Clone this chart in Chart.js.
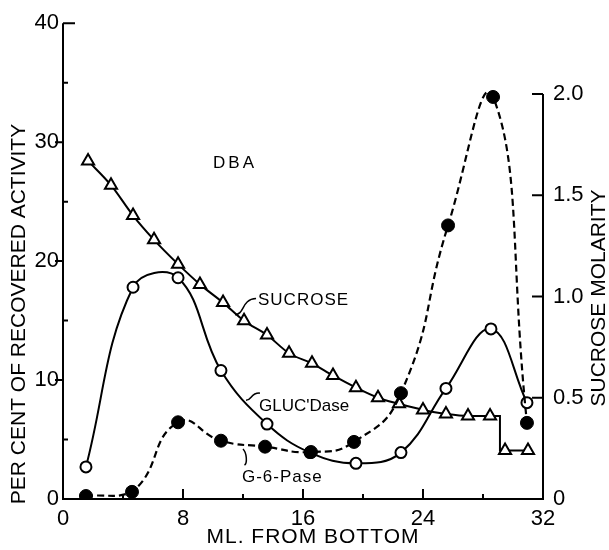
<!DOCTYPE html>
<html>
<head>
<meta charset="utf-8">
<script src="https://cdn.jsdelivr.net/npm/chart.js@4.4.1/dist/chart.umd.min.js"></script>
<style>
  html, body { margin: 0; padding: 0; background: #fff; }
  #wrap { width: 609px; height: 550px; position: relative; }
</style>
</head>
<body>
<div id="wrap"><canvas id="myChart"></canvas></div>
<script>
// ml from bottom of the tube (x) for each series
const sucroseMl = [1.67, 3.2, 4.67, 6.07, 7.67, 9.13, 10.67, 12.07, 13.6, 15.07, 16.6, 18.0, 19.53, 21.0, 22.4, 24.0, 25.53, 27.0, 28.47, 29.47, 31.0];
const sucroseMolarity = [1.67, 1.55, 1.40, 1.28, 1.16, 1.06, 0.97, 0.88, 0.81, 0.72, 0.67, 0.61, 0.55, 0.50, 0.47, 0.44, 0.42, 0.41, 0.41, 0.24, 0.24];

// the drop in the sucrose line near the top of the tube
const stepMl = [28.47, 29.13, 29.13, 29.47, 31.0];
const stepMolarity = [0.41, 0.41, 0.24, 0.24, 0.24];

const glucMl = [1.53, 4.67, 7.67, 10.53, 13.6, 16.47, 19.53, 22.53, 25.53, 28.53, 30.93];
const glucPct = [2.7, 17.8, 18.6, 10.8, 6.3, 3.9, 3.0, 3.9, 9.3, 14.3, 8.1];

const g6pMl = [1.53, 4.6, 7.67, 10.53, 13.47, 16.53, 19.4, 22.53, 25.67, 28.67, 30.93];
const g6pPct = [0.25, 0.6, 6.45, 4.9, 4.4, 3.95, 4.8, 8.9, 23.0, 33.8, 6.4];

const xTicks = [0, 8, 16, 24, 32];
const pctTicks = [0, 10, 20, 30, 40];
const molarTicks = [0, 0.5, 1.0, 1.5, 2.0];

const pts = (xs, ys) => xs.map((v, i) => ({ x: v, y: ys[i] }));

Chart.defaults.font.family = '"Liberation Sans", Arial, sans-serif';
Chart.defaults.color = '#000';

const FONT = '"Liberation Sans", Arial, sans-serif';

// axis lines, inside ticks, rotated titles and the labels on the curves
const ink = {
    id: 'ink',
    afterDraw(chart) {
        const { ctx } = chart;
        const x = chart.scales.x, y = chart.scales.y, y1 = chart.scales.y1;
        const P = (ml, v) => [x.getPixelForValue(ml), y.getPixelForValue(v)];
        const x0 = x.getPixelForValue(0), x32 = x.getPixelForValue(32);
        const yb = y.getPixelForValue(0);

        ctx.save();
        ctx.strokeStyle = '#000';
        ctx.fillStyle = '#000';
        ctx.lineWidth = 2;

        ctx.beginPath();
        ctx.moveTo(x0, y.getPixelForValue(40));
        ctx.lineTo(x0, yb);
        ctx.lineTo(x32, yb);
        ctx.lineTo(x32, y1.getPixelForValue(2.0));
        ctx.stroke();

        ctx.beginPath();
        // left axis
        [10, 20, 30].forEach(v => { const py = y.getPixelForValue(v); ctx.moveTo(x0 - 8, py); ctx.lineTo(x0, py); });
        ctx.moveTo(x0, y.getPixelForValue(40)); ctx.lineTo(x0 + 12, y.getPixelForValue(40));
        [5, 15, 25, 35].forEach(v => { const py = y.getPixelForValue(v); ctx.moveTo(x0, py); ctx.lineTo(x0 + 5, py); });
        // bottom axis
        [8, 16, 24].forEach(v => { const px = x.getPixelForValue(v); ctx.moveTo(px, yb); ctx.lineTo(px, yb - 10); });
        [4, 12, 20, 28].forEach(v => { const px = x.getPixelForValue(v); ctx.moveTo(px, yb); ctx.lineTo(px, yb - 5); });
        // right axis
        [0.5, 1.0, 1.5, 2.0].forEach(v => { const py = y1.getPixelForValue(v); ctx.moveTo(x32, py); ctx.lineTo(x32 - 11, py); });
        ctx.stroke();

        // axis titles
        ctx.font = '21px ' + FONT;
        ctx.textAlign = 'center';
        ctx.textBaseline = 'middle';
        ctx.save();
        ctx.translate(19, 314);
        ctx.rotate(-Math.PI / 2);
        ctx.fillText('PER CENT OF RECOVERED ACTIVITY', 0, 0);
        ctx.restore();
        ctx.save();
        ctx.translate(599, 298);
        ctx.rotate(-Math.PI / 2);
        ctx.fillText('SUCROSE MOLARITY', 0, 0);
        ctx.restore();
        ctx.letterSpacing = '1px';
        ctx.fillText('ML. FROM BOTTOM', 313, 537);

        // curve labels
        ctx.font = '17px ' + FONT;
        ctx.letterSpacing = '3px';
        let p = P(11.47, 28.25);
        ctx.fillText('DBA', p[0], p[1]);
        ctx.textAlign = 'left';
        ctx.letterSpacing = '1px';
        p = P(13.0, 16.7); ctx.fillText('SUCROSE', p[0], p[1]);
        p = P(11.93, 1.85); ctx.fillText('G-6-Pase', p[0], p[1]);
        ctx.letterSpacing = '0px';
        p = P(13.07, 7.8); ctx.fillText("GLUC'Dase", p[0], p[1]);

        // leader squiggles
        ctx.lineWidth = 1.5;
        const leader = (a, b, c, d) => {
            const s = P(...a), c1 = P(...b), c2 = P(...c), e = P(...d);
            ctx.beginPath();
            ctx.moveTo(s[0], s[1]);
            ctx.bezierCurveTo(c1[0], c1[1], c2[0], c2[1], e[0], e[1]);
            ctx.stroke();
        };
        leader([11.47, 15.5], [12.1, 15.5], [11.9, 16.8], [12.87, 16.85]);
        leader([12.2, 8.3], [12.6, 8.3], [12.5, 8.95], [13.13, 8.9]);
        leader([12.0, 4.2], [12.25, 3.9], [12.3, 3.0], [12.1, 2.85]);
        ctx.restore();
    }
};

const config = {
    type: 'line',
    data: {
        datasets: [
            {
                label: 'G-6-Pase',
                data: pts(g6pMl, g6pPct),
                yAxisID: 'y',
                borderColor: '#000',
                borderWidth: 2.2,
                borderDash: [7, 4],
                tension: 0.5,
                pointRadius: 6.5,
                pointBackgroundColor: '#000',
                pointBorderColor: '#000',
                pointBorderWidth: 1
            },
            {
                label: "GLUC'Dase",
                data: pts(glucMl, glucPct),
                yAxisID: 'y',
                borderColor: '#000',
                borderWidth: 2,
                tension: 0.4,
                pointRadius: 5.5,
                pointBackgroundColor: '#fff',
                pointBorderColor: '#000',
                pointBorderWidth: 2
            },
            {
                label: 'Sucrose',
                data: pts(sucroseMl, sucroseMolarity),
                yAxisID: 'y1',
                borderColor: '#000',
                borderWidth: 2,
                cubicInterpolationMode: 'monotone',
                segment: {
                    borderColor: c => c.p0.parsed.x > 28 ? 'rgba(0,0,0,0)' : '#000'
                },
                pointStyle: 'triangle',
                pointRadius: 7,
                pointBackgroundColor: '#fff',
                pointBorderColor: '#000',
                pointBorderWidth: 2
            },
            {
                label: 'Sucrose step',
                data: pts(stepMl, stepMolarity),
                yAxisID: 'y1',
                borderColor: '#000',
                borderWidth: 2,
                tension: 0,
                pointRadius: 0
            }
        ]
    },
    plugins: [ink],
    options: {
        responsive: true,
        maintainAspectRatio: false,
        animation: false,
        events: [],
        layout: { padding: { top: 22, left: 0, right: 0, bottom: 0 } },
        plugins: { legend: { display: false }, tooltip: { enabled: false } },
        scales: {
            x: {
                type: 'linear',
                min: 0,
                max: 32,
                afterBuildTicks: s => { s.ticks = xTicks.map(v => ({ value: v })); },
                afterFit: s => { s.height = 51; },
                grid: { display: false, drawTicks: false },
                border: { display: false },
                ticks: { padding: 7, font: { size: 22 }, maxRotation: 0 }
            },
            y: {
                position: 'left',
                min: 0,
                max: 40,
                afterBuildTicks: s => { s.ticks = pctTicks.map(v => ({ value: v })); },
                afterFit: s => { s.width = 63; },
                grid: { display: false, drawTicks: false },
                border: { display: false },
                ticks: { padding: 4, font: { size: 22 } }
            },
            y1: {
                position: 'right',
                min: 0,
                max: 2.35,
                afterBuildTicks: s => { s.ticks = molarTicks.map(v => ({ value: v })); },
                afterFit: s => { s.width = 66; },
                grid: { display: false, drawTicks: false },
                border: { display: false },
                ticks: {
                    padding: 10,
                    font: { size: 22 },
                    callback: v => v === 0 ? '0' : v.toFixed(1)
                }
            }
        }
    }
};

new Chart(document.getElementById('myChart'), config);
</script>
</body>
</html>
